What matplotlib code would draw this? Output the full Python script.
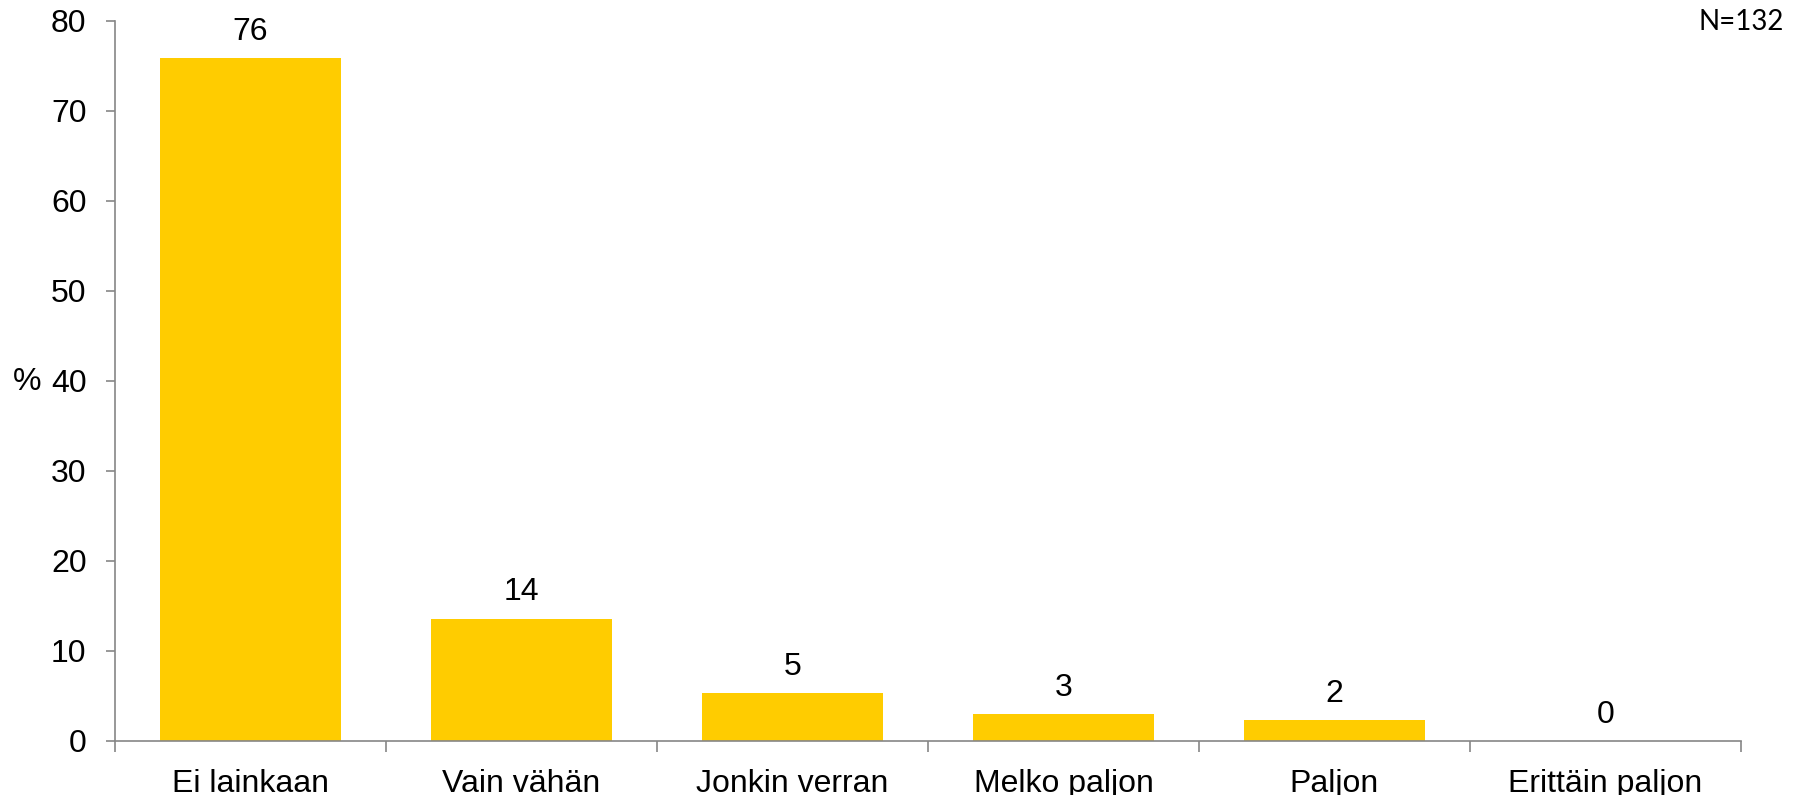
import matplotlib
matplotlib.use("Agg")
import matplotlib.pyplot as plt
import numpy as np

categories = ["Ei lainkaan", "Vain vähän", "Jonkin verran", "Melko paljon", "Paljon", "Erittäin paljon"]
values = [75.8, 13.6, 5.3, 3.0, 2.3, 0.0]
labels = ["76", "14", "5", "3", "2", "0"]
yticks = [0, 10, 20, 30, 40, 50, 60, 70, 80]
n_text = "N=132"

BAR = "#FFCC00"
GRAY = "#868686"
FONT = "Liberation Sans"
FS = 23

fig = plt.figure(figsize=(18.02, 7.95), dpi=100)
ax = fig.add_axes([115/1802, 1 - 741/795, (1741 - 115)/1802, (741 - 20.5)/795])

x = np.arange(len(categories))
ax.bar(x, values, width=2/3, color=BAR, zorder=2)
for xi, v, lab in zip(x, values, labels):
    ax.annotate(lab, (xi, v), xytext=(0, 8), textcoords="offset points",
                ha="center", va="bottom", fontsize=FS, family=FONT, color="black")

ax.set_xlim(-0.5, len(categories) - 0.5)
ax.set_ylim(0, 80)
ax.set_yticks(yticks)
ax.set_yticklabels([str(t) for t in yticks], fontsize=FS, family=FONT)
ax.set_xticks(x)
ax.set_xticklabels(categories, fontsize=FS, family=FONT)
ax.set_xticks(np.arange(-0.5, len(categories)), minor=True)

for s in ["top", "right"]:
    ax.spines[s].set_visible(False)
for s in ["left", "bottom"]:
    ax.spines[s].set_color(GRAY)
    ax.spines[s].set_linewidth(1.2)

ax.tick_params(axis="y", length=6.5, width=1.2, color=GRAY, pad=14)
ax.tick_params(axis="x", which="major", length=0, pad=20)
ax.tick_params(axis="x", which="minor", length=8, width=1.2, color=GRAY, direction="out")

fig.text(27/1802, 1 - 382/795, "%", fontsize=FS, family=FONT, ha="center", va="center")
fig.text(1784/1802, 1 - 22/795, n_text, fontsize=20, family="Lato", ha="right", va="center")

fig.savefig("out.png", dpi=100)
